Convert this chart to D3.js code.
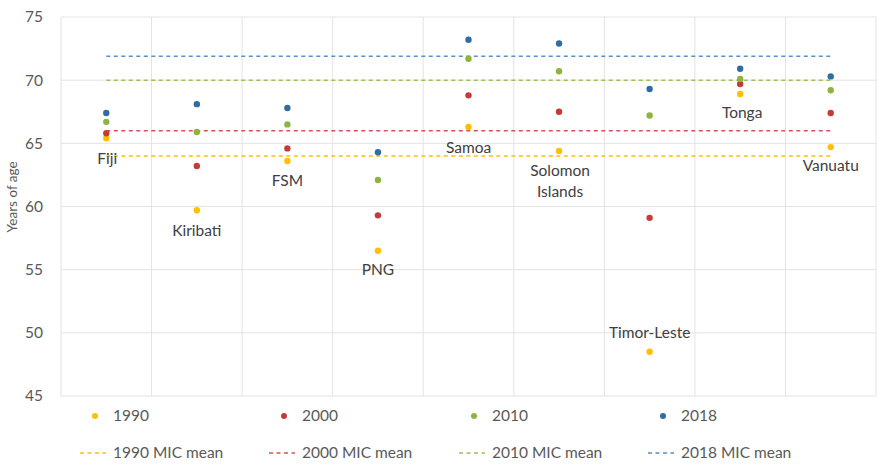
<!DOCTYPE html>
<html>
<head>
<meta charset="utf-8">
<script src="https://cdn.jsdelivr.net/npm/d3@7"></script>
<style>
  html, body { margin: 0; padding: 0; background: #fff; }
  svg { display: block; font-family: Lato, "Open Sans", sans-serif; }
</style>
</head>
<body>
<svg id="chart" width="877" height="465"></svg>
<script>
// Countries, plotted left to right
const countries = ["Fiji", "Kiribati", "FSM", "PNG", "Samoa", "Solomon Islands", "Timor-Leste", "Tonga", "Vanuatu"];

// Life expectancy (years) per survey year
const v1990 = [65.4, 59.7, 63.6, 56.5, 66.3, 64.4, 48.5, 68.9, 64.7];
const v2000 = [65.8, 63.2, 64.6, 59.3, 68.8, 67.5, 59.1, 69.7, 67.4];
const v2010 = [66.7, 65.9, 66.5, 62.1, 71.7, 70.7, 67.2, 70.1, 69.2];
const v2018 = [67.4, 68.1, 67.8, 64.3, 73.2, 72.9, 69.3, 70.9, 70.3];

// Means across the MIC group
const micMeans = [64.0, 66.0, 70.0, 71.9];
const years = ["1990", "2000", "2010", "2018"];
const colors = ["#ffc000", "#c83a3a", "#8db43e", "#2e6ea3"];
const lineColors = ["#ffc000", "#d25555", "#9dc15a", "#5b8fc6"];

const yTicks = [45, 50, 55, 60, 65, 70, 75];

const svg = d3.select("#chart");
const margin = { left: 61, top: 17, right: 876, bottom: 396 };

const x = d3.scaleLinear().domain([0, 9]).range([margin.left, margin.right]);
const y = d3.scaleLinear().domain([45, 75]).range([margin.bottom, margin.top]);

const grid = svg.append("g");
// horizontal grid
grid.selectAll("line.h").data(yTicks).join("line")
  .attr("x1", x(0)).attr("x2", x(9))
  .attr("y1", d => y(d)).attr("y2", d => y(d))
  .attr("stroke", "#e3e3e3").attr("stroke-width", 1);
// vertical grid
grid.selectAll("line.v").data(d3.range(0, 10)).join("line")
  .attr("x1", d => x(d)).attr("x2", d => x(d))
  .attr("y1", y(45)).attr("y2", y(75))
  .attr("stroke", "#e3e3e3").attr("stroke-width", 1);

// y axis tick labels
const yAxis = d3.axisLeft(y).tickValues(yTicks).tickSize(0).tickPadding(18);
const ya = svg.append("g").attr("transform", `translate(${margin.left},0)`).call(yAxis);
ya.select(".domain").remove();
ya.selectAll("text").attr("fill", "#595959").style("font-size", "15.5px")
  .style("font-family", "Lato, sans-serif");

// y axis title
svg.append("text")
  .attr("transform", `translate(17,197) rotate(-90)`)
  .attr("text-anchor", "middle")
  .attr("fill", "#595959").style("font-size", "13.5px")
  .text("Years of age");

// mean lines
svg.append("g").selectAll("line").data(micMeans).join("line")
  .attr("x1", x(0.5)).attr("x2", x(8.5))
  .attr("y1", d => y(d)).attr("y2", d => y(d))
  .attr("stroke", (d, i) => lineColors[i])
  .attr("stroke-width", 1.5)
  .attr("stroke-dasharray", "4,3.5");

// points
const series = [v1990, v2000, v2010, v2018];
series.forEach((vals, si) => {
  svg.append("g").selectAll("circle").data(vals).join("circle")
    .attr("cx", (d, i) => x(i + 0.5))
    .attr("cy", d => y(d))
    .attr("r", 3.2)
    .attr("fill", colors[si]);
});

// country labels
const labelPos = [
  { dx: 1, y: 164 }, { dx: 0, y: 236 }, { dx: 0, y: 186 }, { dx: 0, y: 275 },
  { dx: 0, y: 153 }, { dx: 1, y: 176 }, { dx: 0, y: 338 }, { dx: 2, y: 118 }, { dx: 0, y: 171 }
];
const lab = svg.append("g").attr("fill", "#404040").style("font-size", "15.5px").attr("text-anchor", "middle");
countries.forEach((c, i) => {
  const t = lab.append("text").attr("x", x(i + 0.5) + labelPos[i].dx).attr("y", labelPos[i].y);
  if (c === "Solomon Islands") {
    t.append("tspan").attr("x", x(i + 0.5) + labelPos[i].dx).text("Solomon");
    t.append("tspan").attr("x", x(i + 0.5) + labelPos[i].dx).attr("dy", 21).text("Islands");
  } else {
    t.text(c);
  }
});

// legend
const legX = [95, 284, 474, 663];
const leg = svg.append("g").style("font-size", "15.5px").attr("fill", "#595959");
years.forEach((yr, i) => {
  leg.append("circle").attr("cx", legX[i]).attr("cy", 416).attr("r", 3).attr("fill", colors[i]);
  leg.append("text").attr("x", legX[i] + 18).attr("y", 421).text(yr);
  leg.append("line").attr("x1", legX[i] - 15).attr("x2", legX[i] + 11)
    .attr("y1", 453).attr("y2", 453)
    .attr("stroke", lineColors[i]).attr("stroke-width", 1.5).attr("stroke-dasharray", "4,3.5");
  leg.append("text").attr("x", legX[i] + 18).attr("y", 458).text(yr + " MIC mean");
});
</script>
</body>
</html>
